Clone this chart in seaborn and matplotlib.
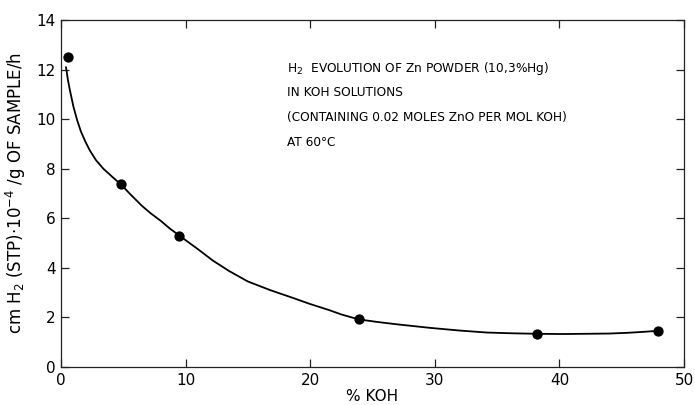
import matplotlib
matplotlib.use("Agg")
import matplotlib.pyplot as plt
import seaborn as sns
import pandas as pd

# measured points
koh_pct = [0.6, 4.8, 9.5, 23.9, 38.2, 47.9]
h2_rate = [12.5, 7.37, 5.30, 1.92, 1.35, 1.46]

# hand-drawn smooth curve
curve_x = [0.4, 0.55, 0.7, 0.85, 1.0, 1.3, 1.6, 1.95, 2.3, 2.8, 3.4, 4.1, 4.8,
           5.6, 6.5, 7.2, 8.0, 8.7, 9.5, 11.0, 12.2, 13.5, 15.0, 16.8, 18.6,
           20.0, 21.5, 22.5, 23.9, 25.5, 27.0, 29.6, 32.0, 34.2, 36.2, 38.2,
           40.2, 42.2, 44.0, 45.5, 46.8, 47.9]
curve_y = [12.1, 11.6, 11.2, 10.85, 10.5, 9.95, 9.5, 9.1, 8.75, 8.35, 8.0, 7.68,
           7.37, 6.95, 6.5, 6.2, 5.9, 5.6, 5.3, 4.75, 4.29, 3.87, 3.45, 3.1,
           2.79, 2.54, 2.3, 2.12, 1.92, 1.81, 1.72, 1.58, 1.47, 1.39, 1.36,
           1.34, 1.33, 1.34, 1.35, 1.38, 1.42, 1.46]

x_ticks = [0, 10, 20, 30, 40, 50]
y_ticks = [0, 2, 4, 6, 8, 10, 12, 14]

note_lines = [
    "H$_2$  EVOLUTION OF Zn POWDER (10,3%Hg)",
    "IN KOH SOLUTIONS",
    "(CONTAINING 0.02 MOLES ZnO PER MOL KOH)",
    "AT 60°C",
]

sns.set_style("ticks")
plt.rcParams["font.family"] = ["DejaVu Sans"]
plt.rcParams["text.color"] = "black"
plt.rcParams["axes.labelcolor"] = "black"
plt.rcParams["xtick.labelcolor"] = "black"
plt.rcParams["ytick.labelcolor"] = "black"

fig = plt.figure(figsize=(6.95, 4.05), dpi=100)
ax = fig.add_axes([61 / 695, 1 - 367 / 405, (684 - 61) / 695, (367 - 20) / 405])

pts = pd.DataFrame({"koh": koh_pct, "rate": h2_rate})
crv = pd.DataFrame({"koh": curve_x, "rate": curve_y})

sns.lineplot(data=crv, x="koh", y="rate", ax=ax, color="black", lw=1.3,
             sort=False, estimator=None)
sns.scatterplot(data=pts, x="koh", y="rate", ax=ax, color="black", s=55,
                edgecolor="black", linewidth=0, zorder=5)

ax.set_xlim(0, 50)
ax.set_ylim(0, 14)
ax.set_xticks(x_ticks)
ax.set_yticks(y_ticks)
ax.tick_params(direction="in", length=6, width=0.9, labelsize=11,
               top=True, right=True, pad=4, color="#222222")
for s in ax.spines.values():
    s.set_linewidth(0.9)
    s.set_color("#222222")

ax.set_xlabel("% KOH", fontsize=11, labelpad=1)
ax.set_ylabel("cm H$_2$ (STP)$\\cdot$10$^{-4}$ /g OF SAMPLE/h", fontsize=12,
              labelpad=6)

ys = [0.859, 0.792, 0.718, 0.648]
for line, yy in zip(note_lines, ys):
    ax.text(0.363, yy, line, transform=ax.transAxes, fontsize=9.7,
            fontstretch="condensed", family=["DejaVu Sans"],
            ha="left", va="center", color="black")

fig.savefig("out.png", dpi=100)
